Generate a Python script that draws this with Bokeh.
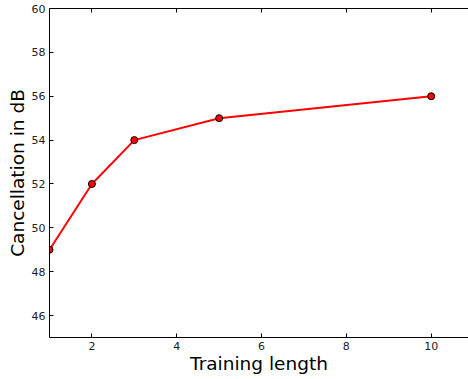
from bokeh.plotting import figure
from bokeh.models import Range1d, LinearAxis, FixedTicker, ColumnDataSource
from bokeh.embed import file_html
from bokeh.resources import INLINE

training_length = [1, 2, 3, 5, 10]
cancellation_db = [49, 52, 54, 55, 56]
x_ticks = [2, 4, 6, 8, 10]
y_ticks = [46, 48, 50, 52, 54, 56, 58, 60]

src = ColumnDataSource(dict(x=training_length, y=cancellation_db))

p = figure(width=468, height=379, output_backend="svg", toolbar_location=None,
           x_range=Range1d(1, 10.88), y_range=Range1d(45, 60),
           x_axis_location=None, y_axis_location=None,
           min_border_left=49, min_border_right=0, min_border_top=8, min_border_bottom=42)
p.grid.visible = False
p.outline_line_color = None
p.background_fill_color = "white"
p.border_fill_color = "white"

FONT = "DejaVu Sans"

xb = LinearAxis(ticker=FixedTicker(ticks=x_ticks), axis_label="Training length")
yl = LinearAxis(ticker=FixedTicker(ticks=y_ticks), axis_label="Cancellation in dB")
xt = LinearAxis(ticker=FixedTicker(ticks=x_ticks))
for ax in (xb, yl, xt):
    ax.major_tick_in = 4
    ax.major_tick_out = 0
    ax.minor_tick_in = 0
    ax.minor_tick_out = 0
    ax.axis_line_color = "black"
    ax.axis_line_width = 1
    ax.major_tick_line_color = "black"
    ax.major_label_text_font = FONT
    ax.major_label_text_font_size = "11px"
    ax.major_label_text_color = "#222222"
    ax.axis_label_text_font = FONT
    ax.axis_label_text_font_size = "18.5px"
    ax.axis_label_text_font_style = "normal"
    ax.axis_label_text_color = "black"
xb.major_label_standoff = 4
xb.axis_label_standoff = 0
yl.major_label_standoff = 4
yl.axis_label_standoff = 1
xt.major_label_text_font_size = "1px"
xt.major_label_text_color = None
xt.major_label_standoff = 0
p.add_layout(xb, "below")
p.add_layout(yl, "left")
p.add_layout(xt, "above")

p.line("x", "y", source=src, line_color="red", line_width=2)
p.scatter("x", "y", source=src, size=7, fill_color="red", line_color="black", line_width=1)

open("out.html", "w").write(file_html(p, INLINE))
